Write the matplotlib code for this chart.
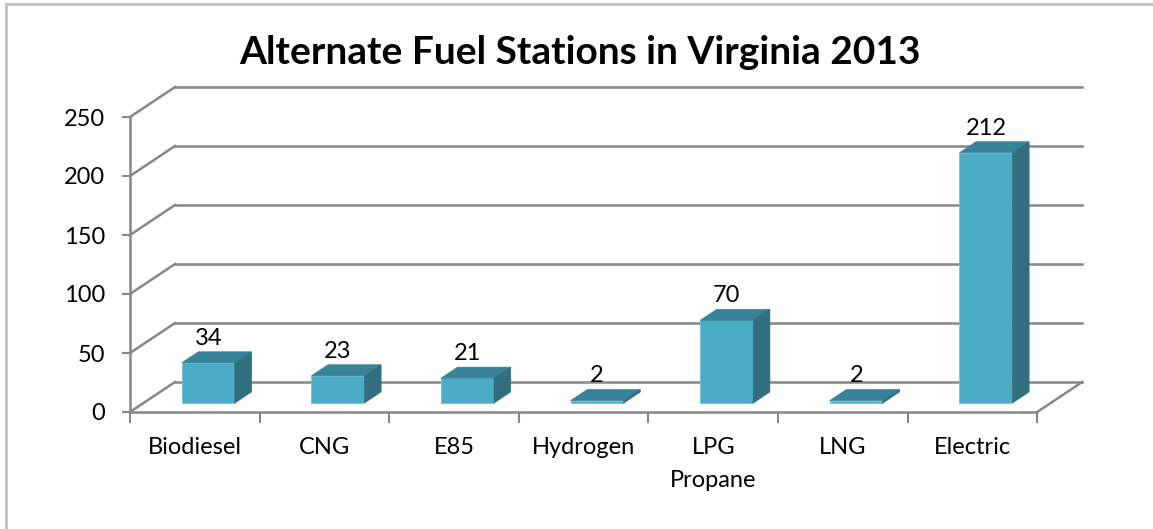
import numpy as np
import matplotlib.pyplot as plt
from matplotlib.patches import Polygon
from matplotlib.lines import Line2D

plt.rcParams['font.family'] = ['Lato', 'DejaVu Sans']

# data
categories = ['Biodiesel', 'CNG', 'E85', 'Hydrogen', 'LPG\nPropane', 'LNG', 'Electric']
stations = [34, 23, 21, 2, 70, 2, 212]
yticks = [0, 50, 100, 150, 200, 250]

# 3d look: oblique depth offset, in data units
DX = 0.347   # depth in category units
DY = 25.4    # depth in value units
d0, d1 = 0.3, 0.67   # bar front / back depth
bw = 0.41

front_c = '#4bacc6'
top_c = '#37839a'
side_c = '#316e7e'
grid_c = '#878787'
fs = 17

W, H = 1153, 529
fig = plt.figure(figsize=(W / 100, H / 100), dpi=100)
# axes box in pixels: left 130, right 1090, top 80, bottom 412
ax = fig.add_axes([130 / W, (H - 412) / H, 960 / W, 332 / H])
ax.set_xlim(-0.5, -0.5 + 960 / 129.6)
ax.set_ylim(0, 332 / 1.18)

n = len(categories)
x = np.arange(n)
x0, x1 = -0.5, n - 0.5

# walls / floor gridlines
for v in yticks:
    ax.plot([x0 + DX, x1 + DX], [v + DY, v + DY], color=grid_c, lw=1.8, zorder=1)
    ax.plot([x0, x0 + DX], [v, v + DY], color=grid_c, lw=1.8, zorder=1)
ax.plot([x1, x1 + DX], [0, DY], color=grid_c, lw=1.8, zorder=1)

# bars
xl = x - bw / 2 + d0 * DX
ybot = d0 * DY
dd = d1 - d0
ax.bar(xl, stations, width=bw, bottom=ybot, align='edge', color=front_c,
       edgecolor='#6cc4da', lw=0.6, zorder=3)
for left, v in zip(xl, stations):
    right = left + bw
    top = ybot + v
    ax.add_patch(Polygon([(left, top), (right, top), (right + dd * DX, top + dd * DY),
                          (left + dd * DX, top + dd * DY)], closed=True,
                         facecolor=top_c, edgecolor=top_c, lw=0.5, zorder=3))
    ax.add_patch(Polygon([(right, ybot), (right, top), (right + dd * DX, top + dd * DY),
                          (right + dd * DX, ybot + dd * DY)], closed=True,
                         facecolor=side_c, edgecolor=side_c, lw=0.5, zorder=3))
    ax.text(left + bw / 2, top + dd * DY + 6, str(v), ha='center', va='baseline',
            fontsize=fs, zorder=4)

# axes
for s in ['top', 'right']:
    ax.spines[s].set_visible(False)
ax.spines['left'].set_bounds(0, 250)
ax.spines['bottom'].set_bounds(x0, x1)
for s in ['left', 'bottom']:
    ax.spines[s].set_color(grid_c)
    ax.spines[s].set_linewidth(1.8)
ax.set_yticks(yticks)
ax.set_yticklabels([str(t) for t in yticks], fontsize=fs)
ax.tick_params(axis='y', length=6, width=1.5, color=grid_c, pad=12)
ax.set_xticks(x)
ax.set_xticklabels(categories, fontsize=fs, linespacing=1.7, va='top')
ax.tick_params(axis='x', length=0, pad=18)
ax.set_xticks(np.arange(n + 1) - 0.5, minor=True)
ax.tick_params(axis='x', which='minor', length=8, width=1.5, color=grid_c)
ax.set_facecolor('none')

fig.text(580 / W, 1 - 52 / H, 'Alternate Fuel Stations in Virginia 2013',
         ha='center', va='center', fontsize=28, fontweight='bold')

# chart area border (top and left only visible)
fig.add_artist(Line2D([5.5 / W, 5.5 / W], [0, 1 - 4 / H], transform=fig.transFigure,
                      color='#c0c0c0', lw=2))
fig.add_artist(Line2D([5.5 / W, 1], [1 - 4 / H, 1 - 4 / H], transform=fig.transFigure,
                      color='#c0c0c0', lw=2))

fig.savefig('out.png', dpi=100)
